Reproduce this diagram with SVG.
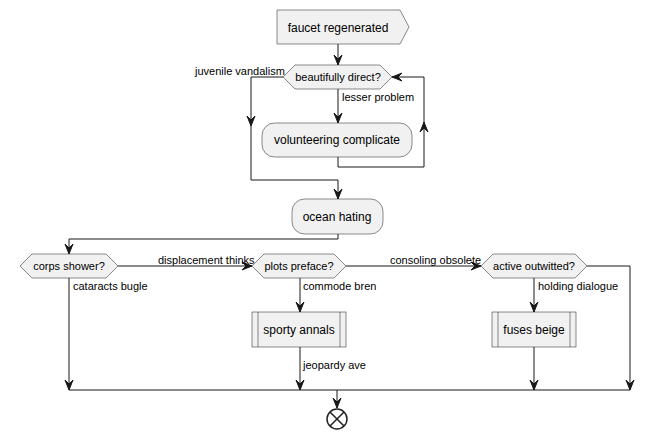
<svg xmlns="http://www.w3.org/2000/svg" width="654" height="440" viewBox="0 0 654 440">
<style>
.n{fill:#F1F1F1;stroke:#181818;stroke-width:0.5}
.t{font-family:"Liberation Sans",Arial,sans-serif;font-size:12px;fill:#000}
.l{font-family:"Liberation Sans",Arial,sans-serif;font-size:11px;fill:#000}
.c{fill:none;stroke:#181818;stroke-width:1}
.a{fill:#181818;stroke:#181818;stroke-width:1}
</style>
<rect width="654" height="440" fill="#FFFFFF"/>
<g id="connectors">
<path class="c" d="M338,44 V65"/>
<polygon class="a" points="334,55 338,65 342,55 338,59"/>
<path class="c" d="M338,89 V123"/>
<polygon class="a" points="334,113 338,123 342,113 338,117"/>
<path class="c" d="M338,157 V167 H424 V77 H392"/>
<polygon class="a" points="420,132 424,122 428,132 424,128"/>
<polygon class="a" points="402,73 392,77 402,81 398,77"/>
<path class="c" d="M283,77 H251 V180 H338 V199"/>
<polygon class="a" points="247,116 251,126 255,116 251,120"/>
<polygon class="a" points="334,189 338,199 342,189 338,193"/>
<path class="c" d="M338,234 V239 H69 V254"/>
<polygon class="a" points="65,244 69,254 73,244 69,248"/>
<path class="c" d="M118,266 H252"/>
<polygon class="a" points="242,262 252,266 242,270 246,266"/>
<path class="c" d="M69,278 V390"/>
<polygon class="a" points="65,380 69,390 73,380 69,384"/>
<path class="c" d="M300,278 V312"/>
<polygon class="a" points="296,302 300,312 304,302 300,306"/>
<path class="c" d="M300,347 V390"/>
<polygon class="a" points="296,380 300,390 304,380 300,384"/>
<path class="c" d="M346,266 H481"/>
<polygon class="a" points="471,262 481,266 471,270 475,266"/>
<path class="c" d="M534,278 V312"/>
<polygon class="a" points="530,302 534,312 538,302 534,306"/>
<path class="c" d="M534,347 V390"/>
<polygon class="a" points="530,380 534,390 538,380 534,384"/>
<path class="c" d="M587,266 H630 V390"/>
<polygon class="a" points="626,380 630,390 634,380 630,384"/>
<path class="c" d="M69,390 H630"/>
<path class="c" d="M337,390 V408"/>
<polygon class="a" points="333,398 337,408 341,398 337,402"/>
<text class="l" x="195" y="75">juvenile vandalism</text>
<text class="l" x="342" y="101">lesser problem</text>
<text class="l" x="158" y="264">displacement thinks</text>
<text class="l" x="73" y="290">cataracts bugle</text>
<text class="l" x="303" y="290">commode bren</text>
<text class="l" x="303" y="369">jeopardy ave</text>
<text class="l" x="390" y="264">consoling obsolete</text>
<text class="l" x="538" y="290">holding dialogue</text>
</g>
<g id="faucet">
<polygon class="n" points="277,10 400,10 409,27 400,44 277,44"/>
<text class="t" x="338" y="32" text-anchor="middle">faucet regenerated</text>
</g>
<g id="beautifully">
<polygon class="n" points="283,77 295,65 380,65 392,77 380,89 295,89"/>
<text class="l" x="338" y="81" text-anchor="middle">beautifully direct?</text>
</g>
<g id="volunteering">
<rect class="n" x="262" y="123" width="150" height="34" rx="12.5"/>
<text class="t" x="337" y="144" text-anchor="middle">volunteering complicate</text>
</g>
<g id="ocean">
<rect class="n" x="292" y="199" width="91" height="35" rx="12.5"/>
<text class="t" x="337" y="221" text-anchor="middle">ocean hating</text>
</g>
<g id="corps">
<polygon class="n" points="20,266 32,254 106,254 118,266 106,278 32,278"/>
<text class="l" x="69" y="270" text-anchor="middle">corps shower?</text>
</g>
<g id="plots">
<polygon class="n" points="252,266 264,254 334,254 346,266 334,278 264,278"/>
<text class="l" x="299" y="270" text-anchor="middle">plots preface?</text>
</g>
<g id="active">
<polygon class="n" points="481,266 493,254 575,254 587,266 575,278 493,278"/>
<text class="l" x="534" y="270" text-anchor="middle">active outwitted?</text>
</g>
<g id="sporty">
<rect class="n" x="252" y="312" width="94" height="35"/>
<path class="c" d="M258,312 V347 M340,312 V347" style="stroke-width:0.5"/>
<text class="t" x="299" y="334" text-anchor="middle">sporty annals</text>
</g>
<g id="fuses">
<rect class="n" x="492" y="312" width="84" height="35"/>
<path class="c" d="M498,312 V347 M570,312 V347" style="stroke-width:0.5"/>
<text class="t" x="534" y="334" text-anchor="middle">fuses beige</text>
</g>
<g id="end">
<circle cx="337" cy="419" r="10" fill="none" stroke="#222222" stroke-width="1.5"/>
<path d="M330,412 L344,426 M344,412 L330,426" stroke="#222222" stroke-width="1.5"/>
</g>
</svg>
